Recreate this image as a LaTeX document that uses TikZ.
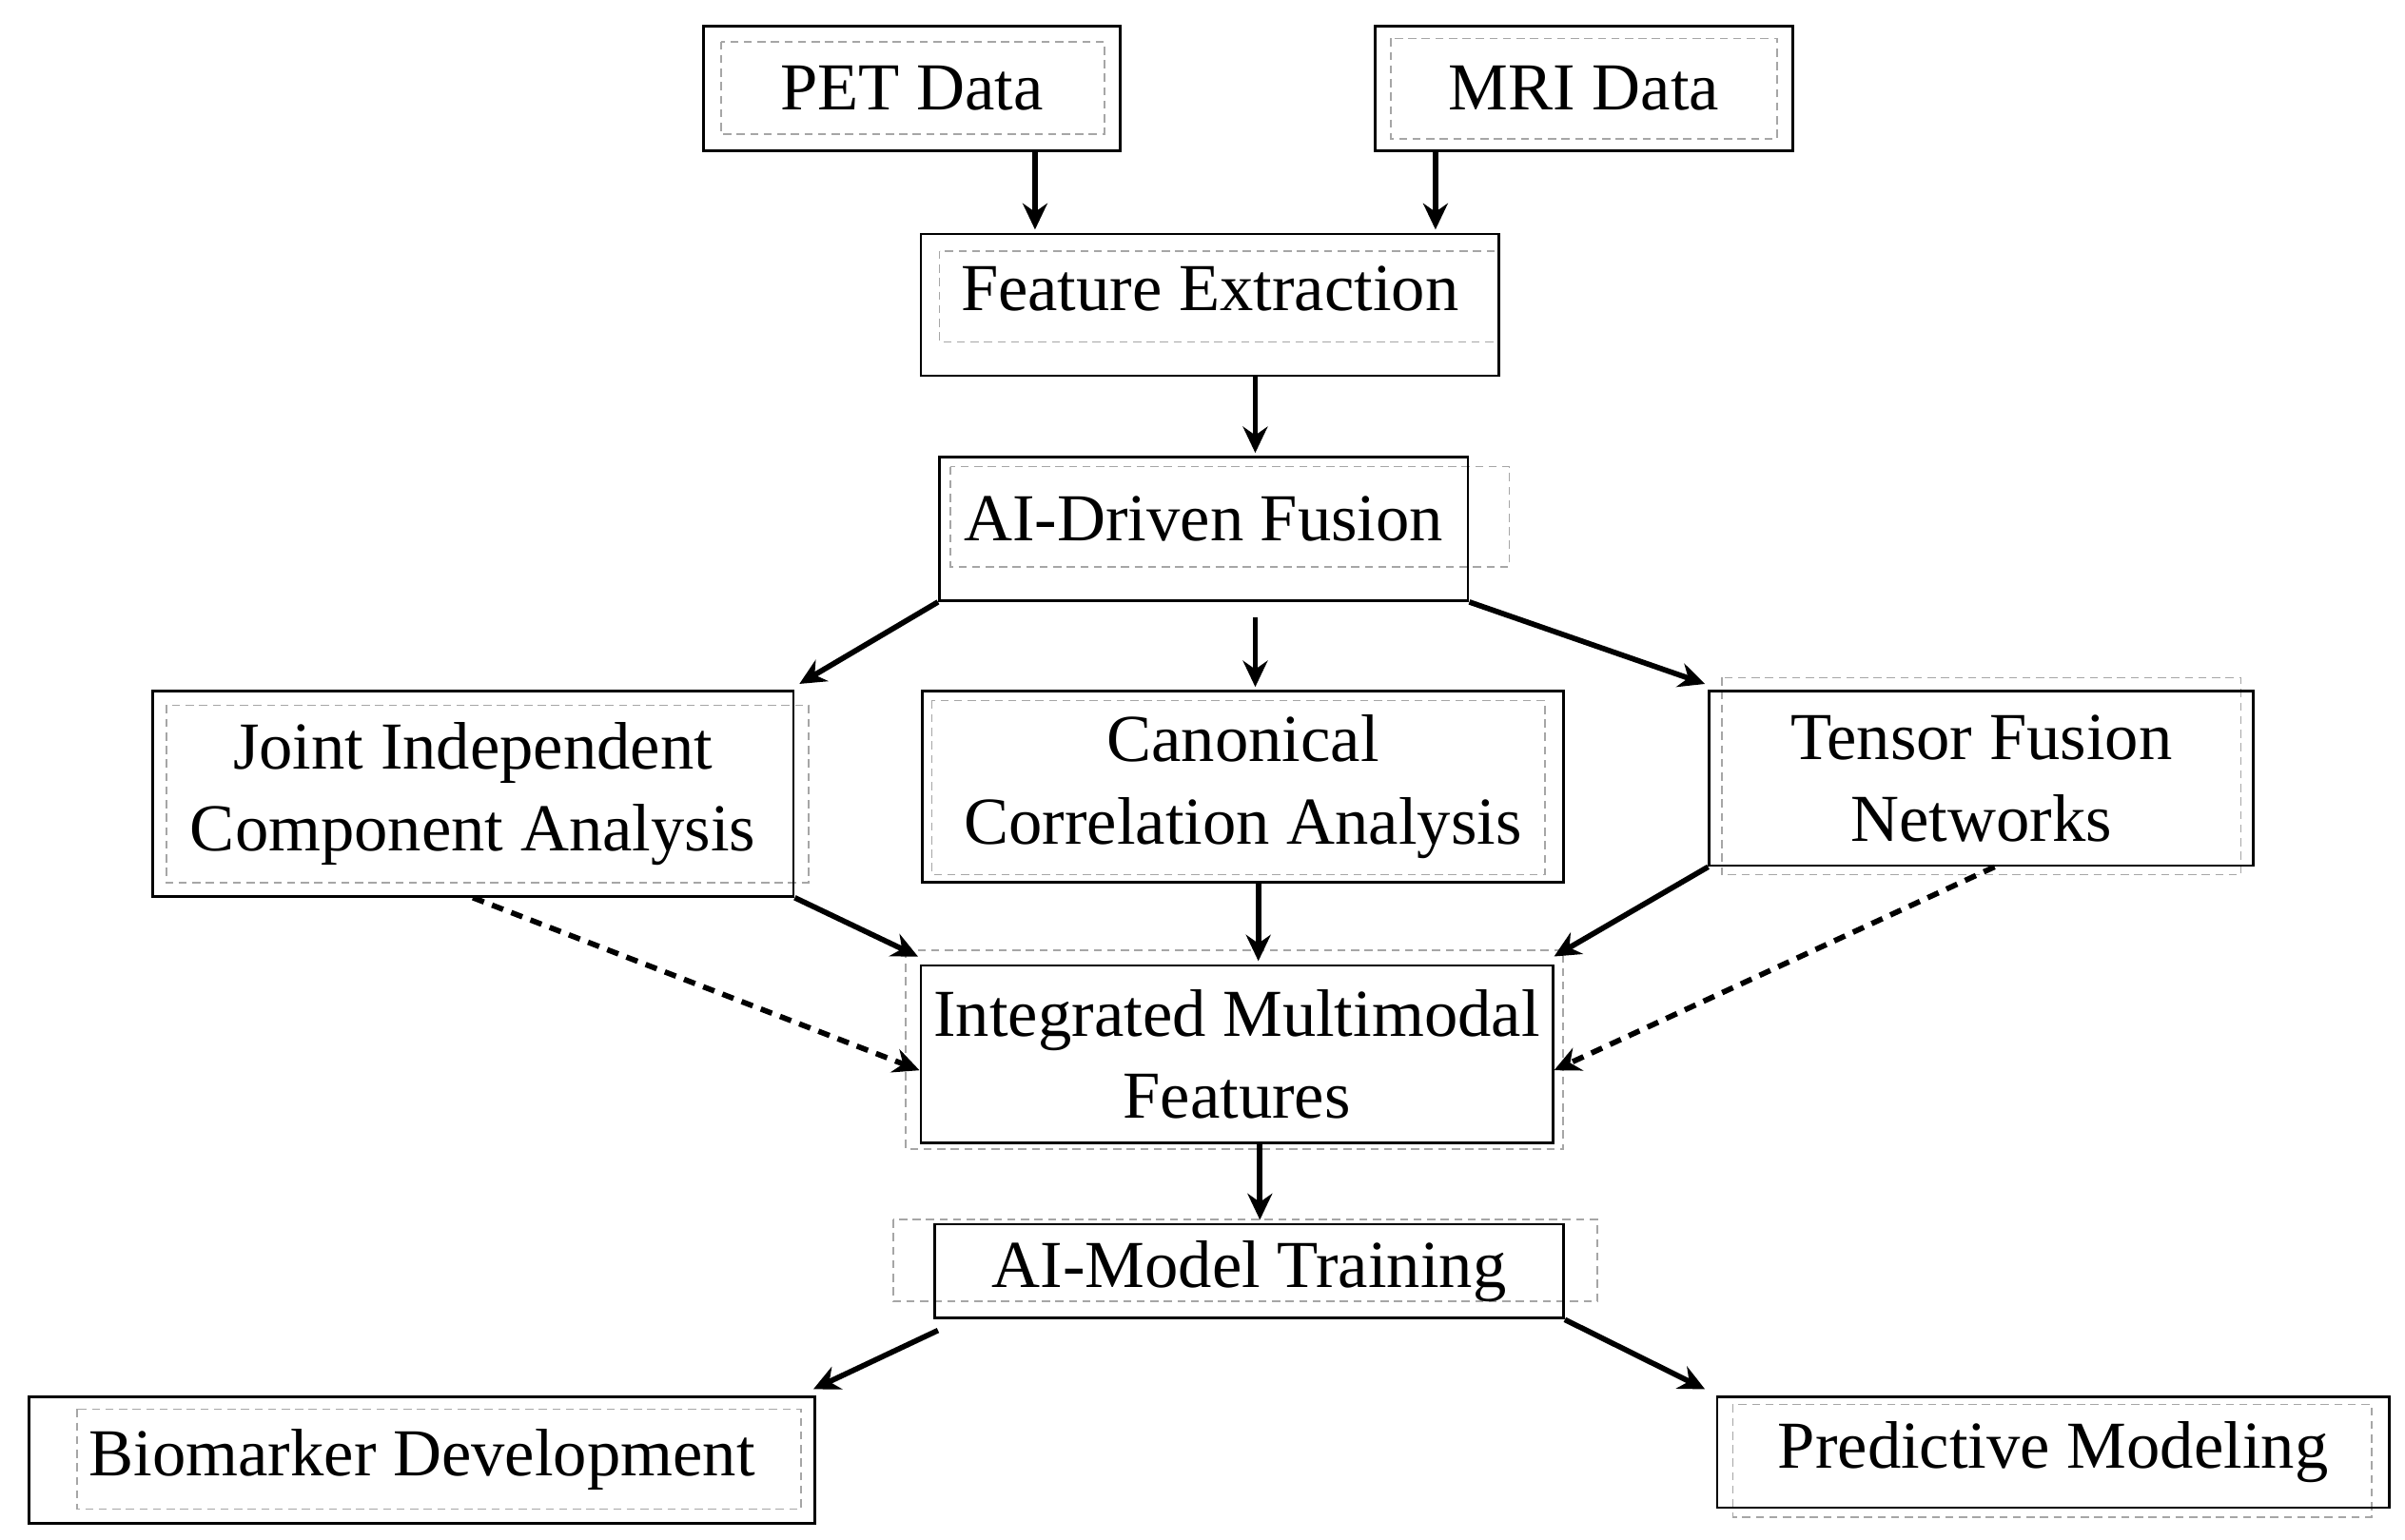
\documentclass[tikz,border=0pt]{standalone}
\usepackage{fontspec}
\setmainfont{Liberation Serif}
\usetikzlibrary{calc,arrows.meta}
\begin{document}
\begin{tikzpicture}[x=0.01cm,y=-0.01cm,
  box/.style={draw,line width=0.5pt,inner sep=0pt,align=center,font=\fontsize{12.4}{15.2}\selectfont},
  dbox/.style={draw=gray!70,dashed,line width=0.3pt,dash pattern=on 1.5pt off 1pt},
  arr/.style={line width=1pt,-{Stealth[length=1.7mm,width=1.6mm]}},
  darr/.style={arr,dash pattern=on 2.2pt off 1.6pt}]
\path[use as bounding box] (0,0) rectangle (1561.5,1000);
\fill[white] (0,0) rectangle (1561.5,1000);
% inner dashed frames
\draw[dbox] (468,27) rectangle (717,87);
\draw[dbox] (903,25) rectangle (1154,90);
\draw[dbox] (610,163) rectangle (973,222);
\draw[dbox] (617,303) rectangle (980,368);
\draw[dbox] (108,458) rectangle (525,573);
\draw[dbox] (605,455) rectangle (1003,568);
\draw[dbox] (1118,440) rectangle (1455,568);
\draw[dbox] (588,617) rectangle (1015,746);
\draw[dbox] (580,792) rectangle (1037,845);
\draw[dbox] (50,915) rectangle (520,980);
\draw[dbox] (1125,912) rectangle (1540,985);
% nodes
\node[box,minimum width=2.70cm,minimum height=0.81cm] (pet) at (592,57.5) {PET Data};
\node[box,minimum width=2.71cm,minimum height=0.81cm] (mri) at (1028.5,57.5) {MRI Data};
\node[box,minimum width=3.75cm,minimum height=0.92cm] (fe) at (785.5,198) {\raisebox{6pt}{Feature Extraction}};
\node[box,minimum width=3.43cm,minimum height=0.93cm] (aidf) at (781.5,343.5) {\raisebox{4pt}{AI-Driven Fusion}};
\node[box,minimum width=4.16cm,minimum height=1.33cm] (jica) at (307,515.5) {Joint Independent\\Component Analysis};
\node[box,minimum width=4.16cm,minimum height=1.24cm] (cca) at (807,511) {Canonical\\Correlation Analysis};
\node[box,minimum width=3.53cm,minimum height=1.13cm] (tfn) at (1286.5,505.5) {Tensor Fusion\\Networks};
\node[box,minimum width=4.10cm,minimum height=1.15cm] (imf) at (803,684.5) {Integrated Multimodal\\Features};
\node[box,minimum width=4.08cm,minimum height=0.61cm] (aimt) at (811,825.5) {AI-Model Training};
\node[box,minimum width=5.10cm,minimum height=0.82cm] (bio) at (274,948) {Biomarker Development};
\node[box,minimum width=4.36cm,minimum height=0.72cm] (pred) at (1333,943) {Predictive Modeling};
% connectors
\draw[arr] ($(pet.south)+(80,0)$) -- ($(fe.north)+(-113.5,-2)$);
\draw[arr] ($(mri.south)+(-96.5,0)$) -- ($(fe.north)+(146.5,-2)$);
\draw[arr] ($(fe.south)+(29.5,0)$) -- ($(aidf.north)+(33.5,-2)$);
\draw[arr] (aidf.south west) -- ($(jica.north east)+(3,-4)$);
\draw[arr] ($(aidf.south)+(33.5,10)$) -- ($(cca.north)+(8,-2)$);
\draw[arr] (aidf.south east) -- ($(tfn.north west)+(-2,-4)$);
\draw[arr] (jica.south east) -- ($(imf.north west)+(-1,-5)$);
\draw[arr] ($(cca.south)+(10,0)$) -- ($(imf.north)+(14,-2)$);
\draw[arr] (tfn.south west) -- ($(imf.north east)+(0,-5)$);
\draw[darr] (jica.south) -- ($(imf.west)+(0,10.5)$);
\draw[darr] ($(tfn.south)+(8.5,0)$) -- ($(imf.east)+(0,10.5)$);
\draw[arr] ($(imf.south)+(15,0)$) -- ($(aimt.north)+(7,-2)$);
\draw[arr] ($(aimt.south west)+(3,7)$) -- ($(bio.north east)+(-2,-4)$);
\draw[arr] (aimt.south east) -- ($(pred.north west)+(-7,-4)$);
\end{tikzpicture}
\end{document}
